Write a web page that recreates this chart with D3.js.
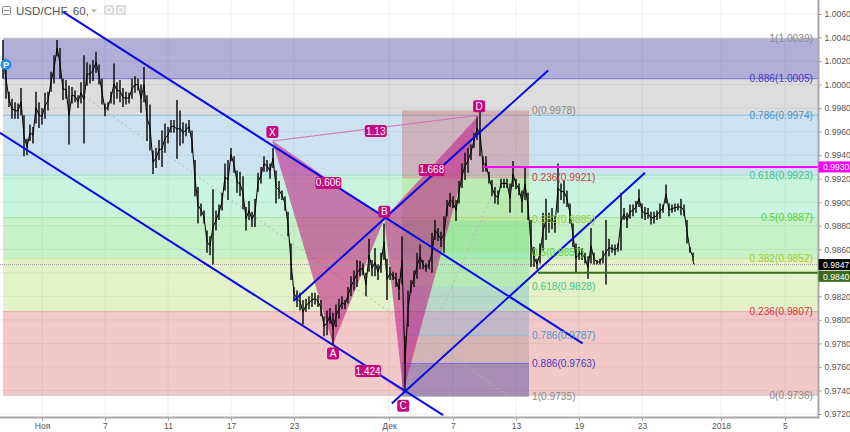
<!DOCTYPE html>
<html><head><meta charset="utf-8">
<style>html,body{margin:0;padding:0;background:#fff}svg{display:block}text{font-family:"Liberation Sans",Arial,sans-serif}</style>
<script src="https://cdn.jsdelivr.net/npm/d3@7/dist/d3.min.js"></script></head><body>
<svg id="c" width="850" height="432"></svg>
<script>
// ---- data (price values in pips, 1/10000) ----
const title = "USD/CHF, 60,";
const priceHighs = [10038,10022,9994,9988,9985,9984,9997,9974,9954,9966,
9964,9994,9985,9980,9993,9994,10011,10025,10038,10031,
10005,10004,9999,9998,9995,9991,10002,10025,10019,10017,
10021,10028,10017,10005,9984,9985,9994,10018,10002,10004,
9997,9994,9993,10005,10007,10005,10000,10015,9991,9983,
9944,9946,9953,9961,9967,9964,9970,9970,9987,9978,
9968,9967,9970,9961,9936,9913,9899,9893,9876,9871,
9911,9893,9898,9908,9933,9936,9946,9939,9927,9926,
9922,9896,9901,9892,9903,9925,9930,9939,9936,9933,
9946,9927,9918,9910,9905,9892,9865,9828,9825,
9823,9817,9818,9820,9823,9823,9821,9817,9803,9808,9810,9806,9813,9818,9820,9817,
9828,9837,9842,9851,9850,9848,9840,9869,9851,9861,9847,9857,9882,9852,9845,9841,9840,9835,9871,
9786,9825,9834,9842,9857,9864,9851,9848,9851,9874,9885,9878,9875,9888,9902,9908,9905,9902,
9918,9933,9942,9946,9949,9959,9973,9977,9939,9939,9926,9919,9913,9910,9920,9920,9920,9916,9935,9920,9916,9910,9929,9908,
9885,9862,9852,9865,9891,9903,9891,9895,9888,9933,9916,9919,9910,9899,9882,9865,9862,9861,9857,9854,9878,9857,9851,
9852,9859,9885,9869,9864,9864,9865,9908,9895,9891,9898,9898,9901,9911,9899,9896,9895,9892,9892,9893,9899,9898,9915,9899,9898,9899,9899,9903,9898,9885,9862,9857];
const priceLows = [10005,9988,9981,9971,9971,9971,9974,9939,9940,9952,
9950,9967,9963,9966,9971,9978,9994,10001,10024,10005,
9987,9988,9949,9984,9985,9980,9984,9950,9999,10001,
10003,10010,10000,9983,9973,9978,9984,9983,9988,9985,
9981,9983,9984,9988,9993,9995,9976,9985,9952,9944,
9924,9929,9936,9930,9942,9950,9959,9959,9937,9948,
9950,9956,9959,9942,9905,9882,9888,9882,9857,9855,
9847,9876,9885,9893,9910,9902,9935,9925,9908,9905,
9894,9876,9885,9879,9879,9909,9916,9926,9926,9920,
9929,9899,9903,9902,9893,9871,9834,9817,9811,
9808,9796,9807,9809,9811,9813,9811,9803,9786,9787,9797,9779,9794,9801,9809,9809,
9814,9820,9825,9828,9837,9838,9820,9841,9837,9837,9834,9840,9851,9817,9834,9834,9828,9817,9830,
9740,9794,9823,9828,9835,9843,9843,9841,9843,9840,9868,9867,9862,9857,9888,9896,9895,9884,
9899,9912,9919,9925,9936,9946,9953,9939,9926,9926,9916,9905,9899,9898,9912,9912,9912,9891,9913,9911,9906,9891,9902,9885,
9845,9845,9843,9848,9859,9868,9874,9877,9874,9891,9902,9899,9896,9882,9862,9840,9851,9851,9848,9835,9848,9847,9847,
9847,9848,9830,9854,9857,9855,9858,9859,9885,9878,9886,9888,9891,9896,9886,9885,9886,9881,9882,9885,9886,9891,9899,9888,9891,9892,9893,9889,9888,9865,9857,9850];
const lastClose = 0.9847;
const yTicks = [1.0060,1.0040,1.0020,1.0000,0.9980,0.9960,0.9940,0.9920,0.9900,0.9880,0.9860,0.9840,0.9820,0.9800,0.9780,0.9760,0.9740,0.9720];
const xTickSlots = [13,34,55,76,97,128.67,150,171,192,213,239.33,260.67];
const xTickLabels = ["Ноя","7","11","17","23","Дек","7","13","19","23","2018","5"];
const fibBigRatios = ["1","0.886","0.786","0.618","0.5","0.382","0.236","0"];
const fibBigPrices = [1.0039,1.0005,0.9974,0.9923,0.9887,0.9852,0.9807,0.9736];
const fibSmallRatios = ["0","0.236","0.382","0.5","0.618","0.786","0.886","1"];
const fibSmallPrices = [0.9978,0.9921,0.9885,0.9857,0.9828,0.9787,0.9763,0.9735];
const fibBigSpan = [0,271.67];
const fibSmallSpan = [133,175.33];
const fibBigDiagonal = [[0,1.0039],[168,0.9736]];
const fibSmallDiagonal = [[133.5,0.9735],[175.33,0.9978]];
const channels = [
  [[19.9,1.0062],[193.2,0.9780]],
  [[-1,0.9959],[146.7,0.9719]],
  [[129.6,0.9729],[214,0.9925]],
  [[96.8,0.9816],[181.7,1.0012]]
];
const pointNames = ["X","A","B","C","D"];
const pointSlots = [89.8,110,127.1,133.4,158.7];
const pointPrices = [0.9952,0.9779,0.9886,0.9739,0.9974];
const ratioLinks = [["X","D","1.13"],["X","B","0.606"],["B","D","1.668"],["A","C","1.424"]];
const hLines = {alert:0.9930, support:0.9840};
const alertStartSlot = 160, supportStartSlot = 178.3;
const pMark = [1, 1.0017];

// ---- styles ----
const bandCols = {red:"rgba(204,40,40,.25)",yg:"rgba(149,204,40,.25)",green:"rgba(40,200,40,.25)",teal:"rgba(40,210,130,.25)",blue:"rgba(50,140,200,.25)",gray:"rgba(120,120,120,.25)",purple:"rgba(50,45,150,.38)"};
const lineCols = {"1":"#b5b5b5","0.886":"#7a70dc","0.786":"#84bde0","0.618":"#9fe3c8","0.5":"#a6e6a0","0.382":"#cfe59a","0.236":"#e2a8a8","0":"#c4c4c4"};
const textCols = {"1":"#8a8a8a","0.886":"#4a38c0","0.786":"#4b96c8","0.618":"#3cc48e","0.5":"#58cf3a","0.382":"#9ccc38","0.236":"#d23a3a","0":"#8a8a8a"};
const bandOrderBig = [bandCols.purple,bandCols.gray,bandCols.blue,bandCols.teal,bandCols.green,bandCols.yg,bandCols.red];
const bandOrderSmall = [bandCols.red,bandCols.yg,bandCols.green,bandCols.teal,bandCols.blue,bandCols.gray,bandCols.purple];
const pink = "#c4087e";

// ---- scales ----
const N = priceHighs.length;
const x = d3.scaleLinear().domain([0,230]).range([3,693]);
const y = d3.scaleLinear().domain([1.0060,0.9720]).range([14,414]);
const svg = d3.select("#c");
const W = 850, H = 432, axisX = 818.5, axisY = 417.5;
const lineGen = d3.line().x(d=>x(d[0])).y(d=>y(d[1]));

// grid
const grid = svg.append("g").attr("stroke","#eeeeee").attr("stroke-width",1);
yTicks.forEach(v=>grid.append("line").attr("x1",0).attr("x2",axisX).attr("y1",y(v)).attr("y2",y(v)));
xTickSlots.forEach(v=>grid.append("line").attr("x1",x(v)).attr("x2",x(v)).attr("y1",0).attr("y2",axisY));

function fib(prices, ratios, span, colors){
  const g = svg.append("g");
  for(let i=0;i<prices.length-1;i++){
    g.append("rect").attr("x",x(span[0])).attr("width",x(span[1])-x(span[0]))
     .attr("y",y(prices[i])).attr("height",y(prices[i+1])-y(prices[i])).attr("fill",colors[i]);
  }
  prices.forEach((p,i)=>g.append("line").attr("x1",x(span[0])).attr("x2",x(span[1])).attr("y1",y(p)).attr("y2",y(p))
     .attr("stroke",lineCols[ratios[i]]).attr("stroke-width",1));
}
fib(fibBigPrices,fibBigRatios,fibBigSpan,bandOrderBig);
fib(fibSmallPrices,fibSmallRatios,fibSmallSpan,bandOrderSmall);
const pt = n=>{const i=pointNames.indexOf(n);return [pointSlots[i],pointPrices[i]];};

// diagonals
[fibBigDiagonal,fibSmallDiagonal].forEach(d=>svg.append("path").attr("d",lineGen(d)).attr("fill","none")
  .attr("stroke","#b4b4b4").attr("stroke-width",1).attr("stroke-dasharray","2 3"));

// pattern triangles
const tri = [["X","A","B"],["B","C","D"]];
svg.append("g").selectAll("path").data(tri).join("path")
  .attr("d",t=>lineGen(t.map(pt))+"Z").attr("fill","rgba(190,20,130,.55)");

// last price dotted
svg.append("line").attr("x1",0).attr("x2",axisX).attr("y1",y(lastClose)).attr("y2",y(lastClose))
  .attr("stroke","#999").attr("stroke-width",1).attr("stroke-dasharray","1 1");

// price: high-low bars and a thin mid-range trace
const bars = svg.append("g").attr("stroke","#111").attr("stroke-width",1.5);
for(let i=0;i<N;i++){
  bars.append("line").attr("x1",x(i)).attr("x2",x(i)).attr("y1",y(priceLows[i]/10000)).attr("y2",y(priceHighs[i]/10000));
}
const mids = priceHighs.map((h,i)=>[i,(h+priceLows[i])/20000]);
svg.append("path").attr("d",lineGen(mids)).attr("fill","none").attr("stroke","#000").attr("stroke-width",1).attr("stroke-linejoin","round");
svg.append("path").attr("d",lineGen([[N-1,priceLows[N-1]/10000],[N-0.6,lastClose]])).attr("fill","none").attr("stroke","#000");

// horizontal lines
svg.append("line").attr("x1",x(alertStartSlot)).attr("x2",axisX).attr("y1",y(hLines.alert)).attr("y2",y(hLines.alert)).attr("stroke","#ff00ff").attr("stroke-width",2);
svg.append("line").attr("x1",x(supportStartSlot)).attr("x2",axisX).attr("y1",y(hLines.support)).attr("y2",y(hLines.support)).attr("stroke","#3d6b1d").attr("stroke-width",2);

// thin ratio lines
ratioLinks.forEach(l=>svg.append("path").attr("d",lineGen([pt(l[0]),pt(l[1])])).attr("stroke","#d070b0").attr("stroke-width",1).attr("fill","none"));

// channels
channels.forEach(c=>svg.append("path").attr("d",lineGen(c)).attr("fill","none").attr("stroke","#0808e6").attr("stroke-width",2));

// fib labels
const FS = 10.2;
fibBigRatios.forEach((r,i)=>svg.append("text").attr("x",813).attr("y",y(fibBigPrices[i])+3.5).attr("text-anchor","end")
  .attr("font-size",FS).attr("fill",textCols[r]).text(`${r}(${fibBigPrices[i].toFixed(4)})`));
fibSmallRatios.forEach((r,i)=>svg.append("text").attr("x",x(fibSmallSpan[1])+3).attr("y",y(fibSmallPrices[i])+3.5)
  .attr("font-size",FS).attr("fill",textCols[r]).text(`${r}(${fibSmallPrices[i].toFixed(4)})`));

// pattern tags
function tag(cx,cy,t,w){
  const g=svg.append("g");
  g.append("rect").attr("x",cx-w/2).attr("y",cy-6).attr("width",w).attr("height",12).attr("rx",2.5).attr("fill",pink);
  g.append("text").attr("x",cx).attr("y",cy+3.5).attr("text-anchor","middle").attr("font-size",10).attr("fill","#fff").text(t);
}
const tagOff = {X:-9,A:9,B:-7,C:14,D:-9};
pointNames.forEach(n=>{const p=pt(n);tag(x(p[0]),y(p[1])+tagOff[n],n,12);});
ratioLinks.forEach(l=>{const a=pt(l[0]),b=pt(l[1]);
  tag(x((a[0]+b[0])/2),y((a[1]+b[1])/2)+3,l[2],l[2].length>4?26:22);});

// P marker
svg.append("circle").attr("cx",x(pMark[0])).attr("cy",y(pMark[1])).attr("r",5.5).attr("fill","#1e90f0");
svg.append("text").attr("x",x(pMark[0])).attr("y",y(pMark[1])+3).attr("text-anchor","middle").attr("font-size",9).attr("font-weight","bold").attr("fill","#fff").text("P");

// axes
const axR = d3.axisRight(y).tickValues(yTicks).tickSize(3).tickPadding(3).tickFormat(v=>v===hLines.support?"":d3.format(".4f")(v));
const gR = svg.append("g").attr("transform",`translate(${axisX},0)`).call(axR);
const axB = d3.axisBottom(x).tickValues(xTickSlots).tickSize(3).tickPadding(2).tickFormat((d,i)=>xTickLabels[i]);
const gB = svg.append("g").attr("transform",`translate(0,${axisY})`).call(axB);
[gR,gB].forEach(g=>{g.selectAll(".domain").remove();g.selectAll("line").attr("stroke","#999");
  g.selectAll("text").attr("fill","#555").attr("font-size",8.6).style("font-family",'"Liberation Sans",sans-serif');});
svg.append("line").attr("x1",axisX).attr("x2",axisX).attr("y1",0).attr("y2",axisY+1).attr("stroke","#aaa").attr("stroke-width",2);
svg.append("line").attr("x1",0).attr("x2",axisX).attr("y1",axisY).attr("y2",axisY).attr("stroke","#aaa").attr("stroke-width",2);

// price tags
function ptag(cy,t,fill){
  svg.append("rect").attr("x",axisX).attr("y",cy-5.5).attr("width",W-axisX).attr("height",11).attr("fill",fill);
  svg.append("text").attr("x",823).attr("y",cy+3.2).attr("font-size",8.6).attr("fill","#fff").text(t);
}
ptag(y(hLines.alert),hLines.alert.toFixed(4),"#ff00ff");
ptag(y(lastClose),lastClose.toFixed(4),"#000");
ptag(y(hLines.support)+3.5,hLines.support.toFixed(4),"#3d6b1d");

// header
svg.append("rect").attr("x",2.5).attr("y",6.5).attr("width",8).attr("height",8).attr("rx",1).attr("fill","none").attr("stroke","#888");
svg.append("line").attr("x1",4).attr("x2",9).attr("y1",10.5).attr("y2",10.5).attr("stroke","#888");
svg.append("text").attr("x",16).attr("y",15).attr("font-size",11.6).attr("fill","#555").text(title);
svg.append("path").attr("d","M91 9.5h6l-3 3z").attr("fill","#aaa");
[104,116].forEach(a=>{svg.append("rect").attr("x",a).attr("y",5).attr("width",10).attr("height",10).attr("fill","#dcdcdc");
  svg.append("circle").attr("cx",a+5).attr("cy",10).attr("r",2.6).attr("fill","none").attr("stroke","#fff").attr("stroke-width",1.2);});
</script></body></html>
